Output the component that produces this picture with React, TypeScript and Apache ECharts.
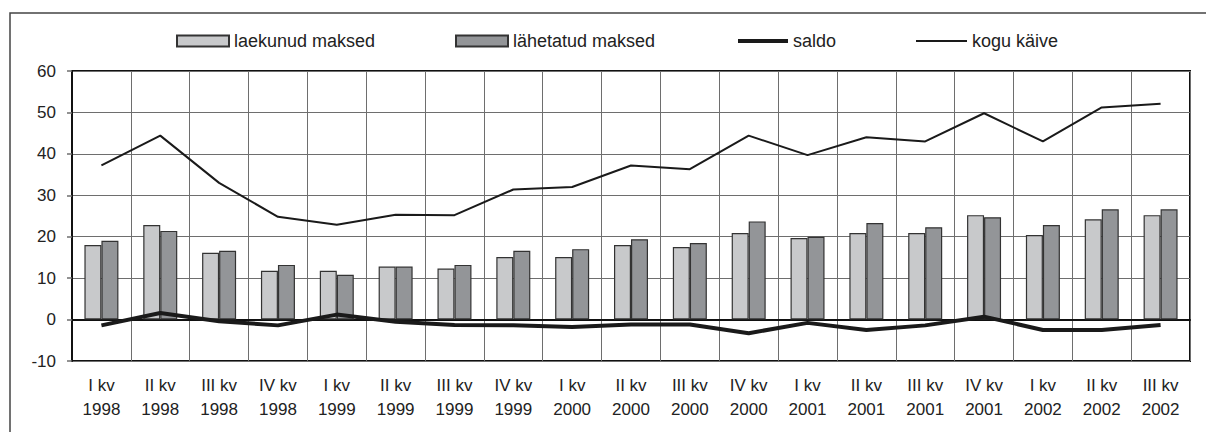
import React, { useEffect, useRef } from "react";
import * as echarts from "echarts";

const categories = [
  "I kv\n1998", "II kv\n1998", "III kv\n1998", "IV kv\n1998",
  "I kv\n1999", "II kv\n1999", "III kv\n1999", "IV kv\n1999",
  "I kv\n2000", "II kv\n2000", "III kv\n2000", "IV kv\n2000",
  "I kv\n2001", "II kv\n2001", "III kv\n2001", "IV kv\n2001",
  "I kv\n2002", "II kv\n2002", "III kv\n2002",
];

const laekunud = [18.0, 22.8, 16.1, 11.8, 11.8, 12.8, 12.3, 15.1, 15.1, 18.0, 17.5, 20.9, 19.7, 20.9, 20.9, 25.2, 20.4, 24.2, 25.2];
const lahetatud = [19.0, 21.4, 16.6, 13.2, 10.8, 12.8, 13.2, 16.6, 17.0, 19.4, 18.5, 23.7, 20.0, 23.3, 22.3, 24.7, 22.8, 26.6, 26.6];
const saldo = [-1.4, 1.6, -0.4, -1.4, 1.2, -0.5, -1.3, -1.4, -1.8, -1.2, -1.2, -3.3, -0.8, -2.5, -1.4, 0.7, -2.5, -2.5, -1.3];
const koguKaive = [37.2, 44.4, 33.0, 24.8, 22.9, 25.3, 25.2, 31.4, 32.0, 37.2, 36.3, 44.4, 39.7, 44.0, 43.0, 49.8, 43.0, 51.2, 52.1];

const yMin = -10;
const yMax = 60;
const yStep = 10;

const FONT = "'Liberation Sans', Arial, sans-serif";
const TEXT_COLOR = "#222";
const FS = 17;
const LEGEND_FS = 18;
const GRID_COLOR = "#6e6e6e";

export default function App() {
  const ref = useRef<HTMLDivElement>(null);

  useEffect(() => {
    if (!ref.current) return;
    const chart = echarts.init(ref.current, undefined, { renderer: "svg" });
    const legendText = { fontSize: LEGEND_FS, color: TEXT_COLOR, fontFamily: FONT };
    const legendBase = { top: 32, padding: 0, itemGap: 0, textStyle: legendText };
    chart.setOption({
      animation: false,
      backgroundColor: "#fff",
      textStyle: { fontFamily: FONT },
      graphic: [
        {
          type: "rect",
          shape: { x: 10, y: 13, width: 1400, height: 600 },
          style: { fill: "none", stroke: "#444", lineWidth: 1.5 },
          silent: true,
          z: -1,
        },
      ],
      legend: [
        { ...legendBase, data: ["laekunud maksed"], left: 176, itemWidth: 52, itemHeight: 11, icon: "rect" },
        { ...legendBase, data: ["lähetatud maksed"], left: 455, itemWidth: 52, itemHeight: 11, icon: "rect" },
        { ...legendBase, data: ["saldo"], left: 738, itemWidth: 50, itemHeight: 4, icon: "rect", itemStyle: { borderWidth: 0 } },
        { ...legendBase, data: ["kogu käive"], left: 916, itemWidth: 51, itemHeight: 2, icon: "rect", itemStyle: { borderWidth: 0 } },
      ],
      grid: {
        left: 72,
        top: 71,
        right: 16,
        bottom: 71,
        show: true,
        borderColor: "#111",
        borderWidth: 2,
        containLabel: false,
      },
      xAxis: {
        type: "category",
        data: categories,
        boundaryGap: true,
        axisLine: { show: true, lineStyle: { color: "#111", width: 2 } },
        axisTick: { show: false },
        axisLabel: {
          interval: 0,
          fontSize: FS,
          color: TEXT_COLOR,
          fontFamily: FONT,
          lineHeight: 24,
          margin: 12,
        },
        splitLine: { show: true, interval: 0, lineStyle: { color: GRID_COLOR, width: 1 } },
      },
      yAxis: {
        type: "value",
        min: yMin,
        max: yMax,
        interval: yStep,
        axisLine: { show: true, lineStyle: { color: "#111", width: 2 } },
        axisTick: { show: true, inside: false, length: 5, lineStyle: { color: GRID_COLOR, width: 1.5 } },
        axisLabel: { fontSize: FS, color: TEXT_COLOR, fontFamily: FONT, margin: 16 },
        splitLine: { show: true, lineStyle: { color: GRID_COLOR, width: 1 } },
      },
      series: [
        {
          name: "laekunud maksed",
          type: "bar",
          data: laekunud,
          barWidth: 17,
          barGap: "0%",
          itemStyle: { color: "#c8c9cb", borderColor: "#333", borderWidth: 1.2 },
          z: 2,
        },
        {
          name: "lähetatud maksed",
          type: "bar",
          data: lahetatud,
          barWidth: 17,
          barGap: "0%",
          itemStyle: { color: "#939598", borderColor: "#333", borderWidth: 1.2 },
          z: 2,
        },
        {
          name: "saldo",
          type: "line",
          data: saldo,
          symbol: "none",
          lineStyle: { color: "#1a1a1a", width: 4 },
          itemStyle: { color: "#1a1a1a" },
          z: 4,
        },
        {
          name: "kogu käive",
          type: "line",
          data: koguKaive,
          symbol: "none",
          lineStyle: { color: "#1a1a1a", width: 2 },
          itemStyle: { color: "#1a1a1a" },
          z: 4,
        },
      ],
    });
    return () => chart.dispose();
  }, []);

  return (
    <div
      ref={ref}
      style={{ position: "absolute", left: 0, top: 0, width: 1206, height: 432 }}
    />
  );
}
